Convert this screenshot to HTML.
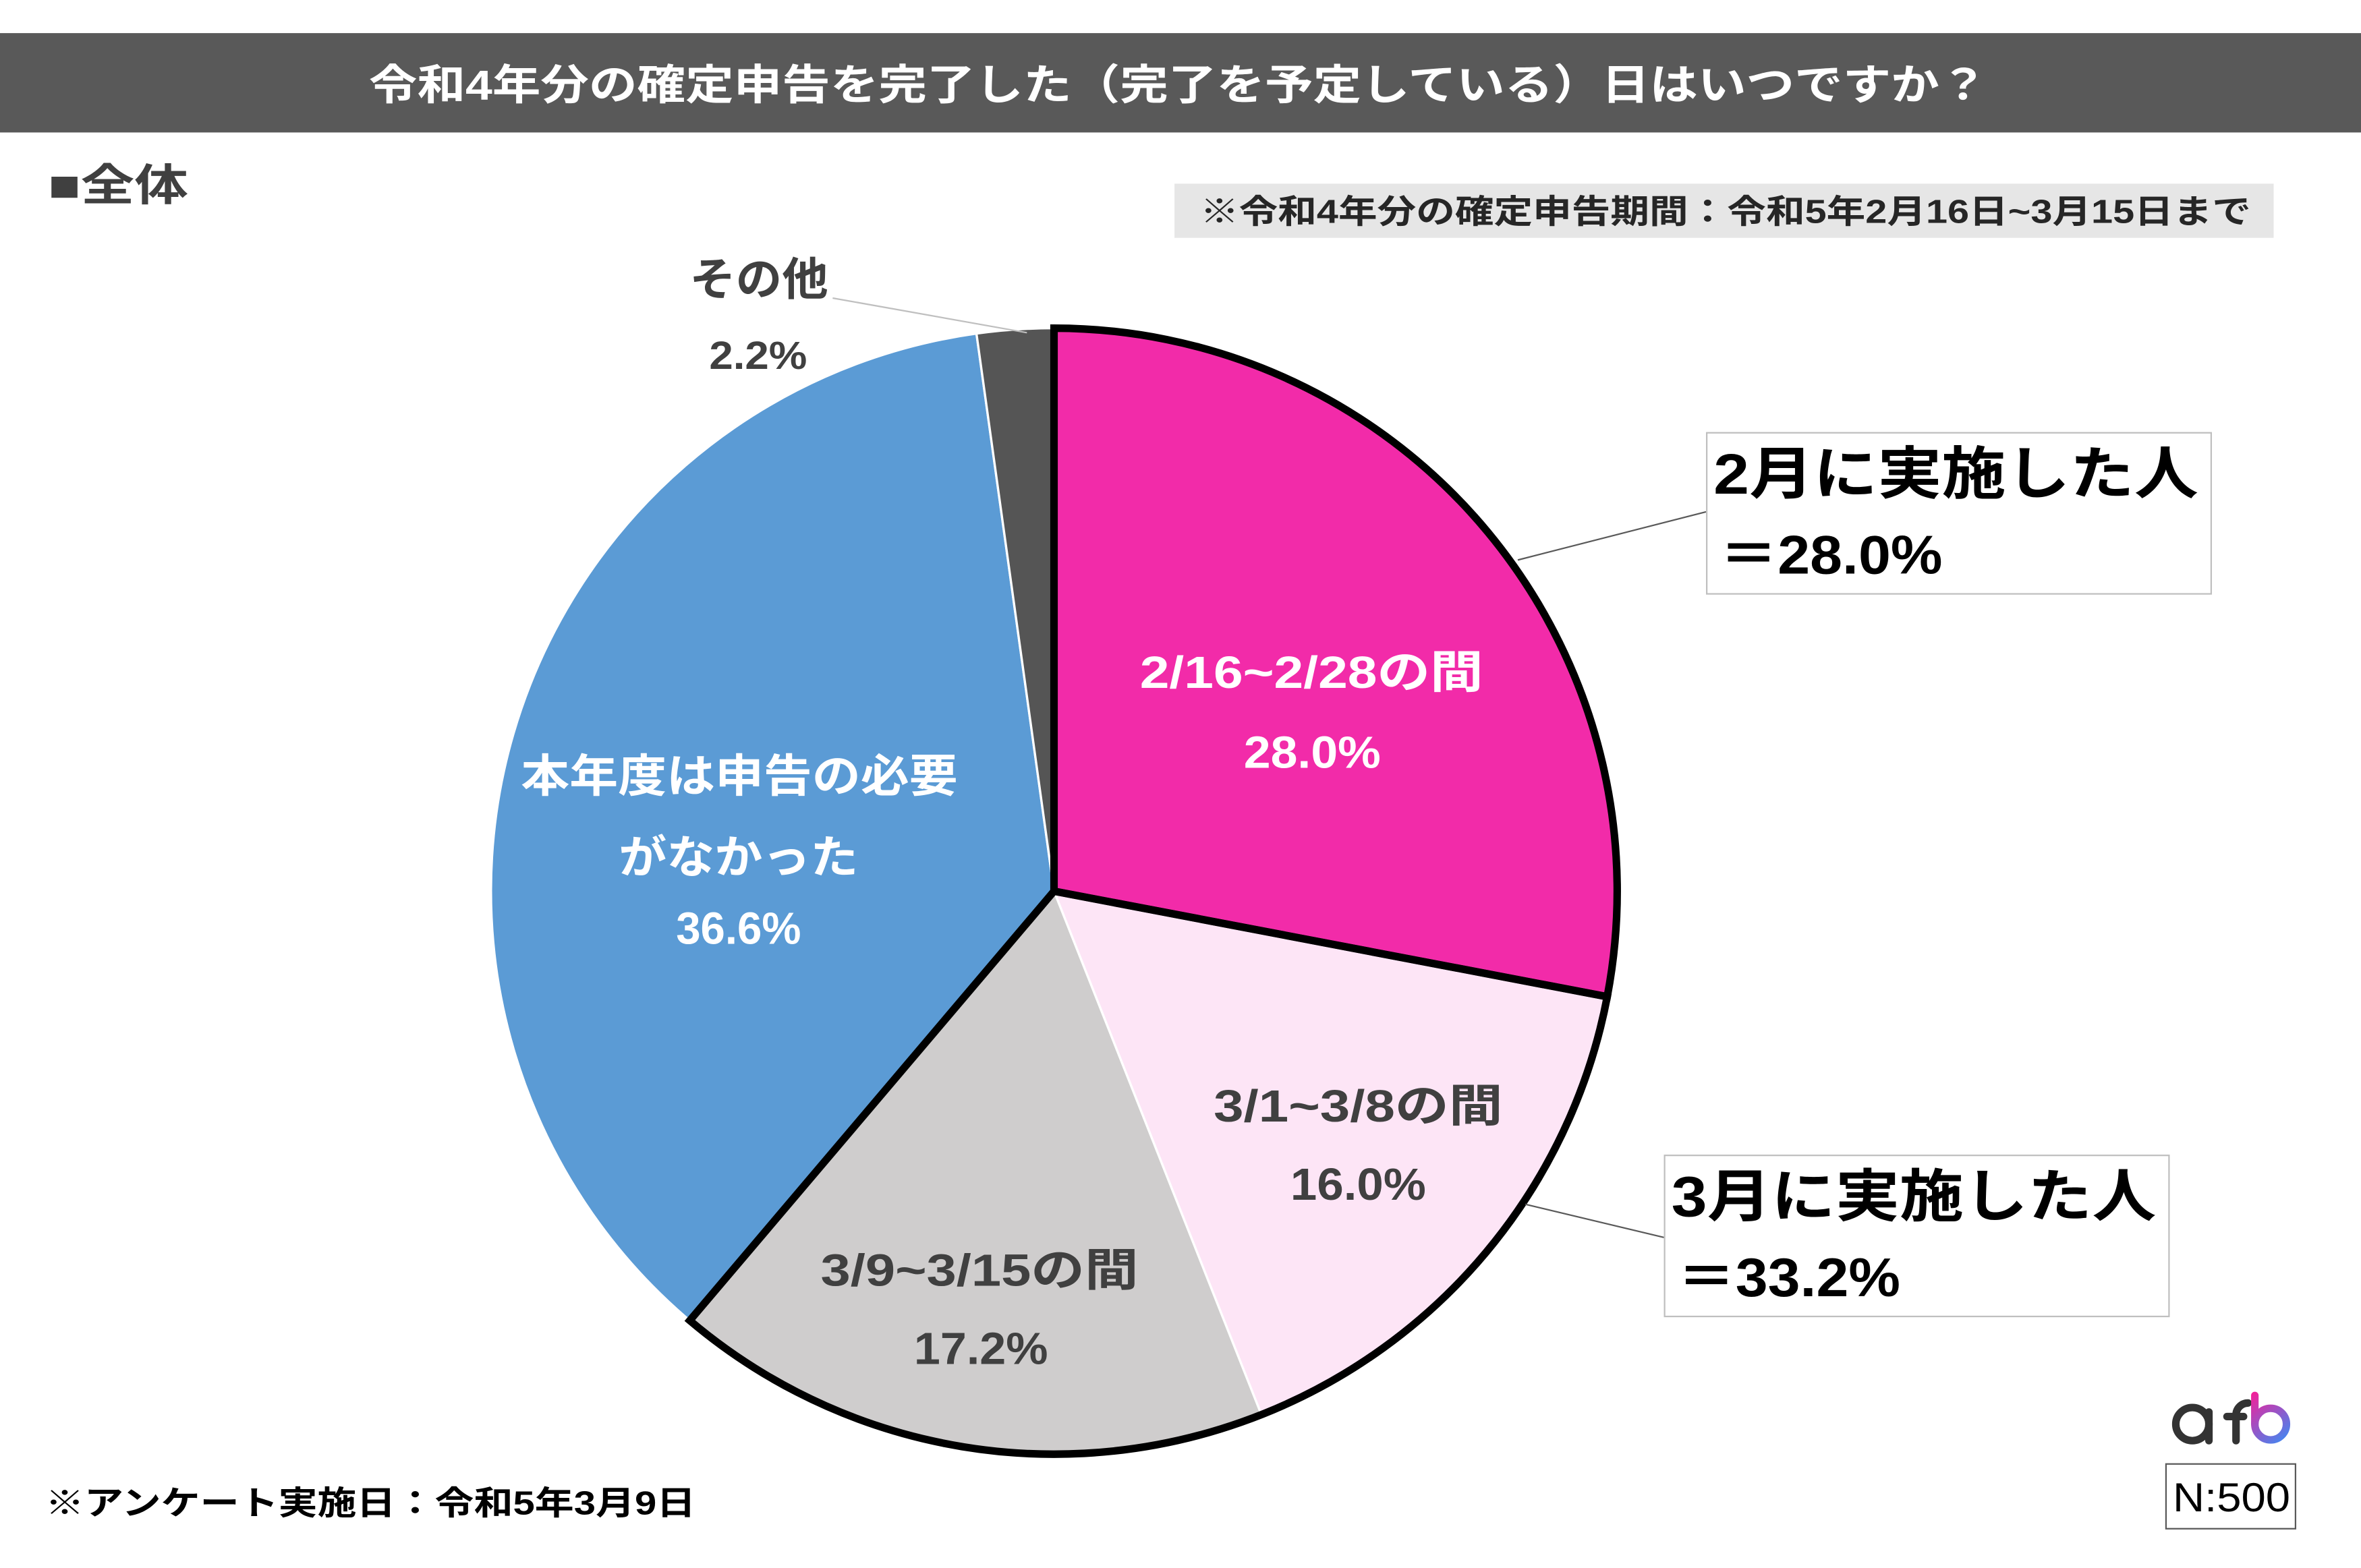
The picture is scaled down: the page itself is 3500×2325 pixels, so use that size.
<!DOCTYPE html>
<html><head><meta charset="utf-8"><style>
html,body{margin:0;padding:0;background:#fff}
svg{display:block}
text{font-family:"Liberation Sans","Noto Sans CJK JP",sans-serif;font-weight:bold}
</style></head><body>
<svg width="3500" height="2325" viewBox="0 0 1568 1041.6" xmlns="http://www.w3.org/2000/svg">
<defs><linearGradient id="g" gradientUnits="userSpaceOnUse" x1="1495" y1="927" x2="1520" y2="958"><stop offset="0" stop-color="#f0219a"/><stop offset="1" stop-color="#3a8cf5"/></linearGradient></defs>
<rect x="0" y="22" width="1568" height="66" fill="#595959"/>
<text x="245" y="66" font-size="28" fill="#fff" textLength="1075" lengthAdjust="spacingAndGlyphs">令和4年分の確定申告を完了した（完了を予定している）日はいつですか？</text>
<text x="32" y="133" font-size="29" fill="#404040" textLength="93" lengthAdjust="spacingAndGlyphs">■全体</text>
<rect x="780" y="122" width="730" height="36" fill="#e6e6e6"/>
<text x="797" y="148" font-size="22" fill="#262626" textLength="698" lengthAdjust="spacingAndGlyphs">※令和4年分の確定申告期間：令和5年2月16日~3月15日まで</text>
<g stroke="#fff" stroke-width="1.5">
<path d="M700,592 L700,218 A374,374 0 0 1 1067.4,662.1 Z" fill="#f22ba9"/>
<path d="M700,592 L1067.4,662.1 A374,374 0 0 1 837.7,939.7 Z" fill="#fde5f6"/>
<path d="M700,592 L837.7,939.7 A374,374 0 0 1 458.1,877.2 Z" fill="#cfcdcd"/>
<path d="M700,592 L458.1,877.2 A374,374 0 0 1 648.5,221.6 Z" fill="#5b9bd5"/>
<path d="M700,592 L648.5,221.6 A374,374 0 0 1 700,218 Z" fill="#555555"/>
</g>
<g fill="none" stroke="#000" stroke-width="5" stroke-linejoin="miter">
<path d="M700,592 L700,218 A374,374 0 0 1 1067.4,662.1 Z"/>
<path d="M700,592 L1067.4,662.1 A374,374 0 0 1 458.1,877.2 Z"/>
</g>
<g font-size="30">
<text x="757" y="457" fill="#fff" textLength="228" lengthAdjust="spacingAndGlyphs">2/16~2/28の間</text>
<text x="826" y="510" fill="#fff" textLength="91" lengthAdjust="spacingAndGlyphs">28.0%</text>
<text x="806" y="745" fill="#404040" textLength="192" lengthAdjust="spacingAndGlyphs">3/1~3/8の間</text>
<text x="857" y="797" fill="#404040" textLength="90" lengthAdjust="spacingAndGlyphs">16.0%</text>
<text x="545" y="854" fill="#404040" textLength="211" lengthAdjust="spacingAndGlyphs">3/9~3/15の間</text>
<text x="607" y="906" fill="#404040" textLength="89" lengthAdjust="spacingAndGlyphs">17.2%</text>
<text x="346" y="526" fill="#fff" textLength="290" lengthAdjust="spacingAndGlyphs">本年度は申告の必要</text>
<text x="411" y="580" fill="#fff" textLength="159" lengthAdjust="spacingAndGlyphs">がなかった</text>
<text x="449" y="627" fill="#fff" textLength="83" lengthAdjust="spacingAndGlyphs">36.6%</text>
<text x="458" y="196" fill="#404040" textLength="92" lengthAdjust="spacingAndGlyphs">その他</text>
<text x="471" y="245" fill="#404040" font-size="26" textLength="65" lengthAdjust="spacingAndGlyphs">2.2%</text>
</g>
<line x1="553" y1="198" x2="682" y2="221" stroke="#bfbfbf" stroke-width="1"/>
<line x1="1008" y1="372" x2="1133" y2="340" stroke="#595959" stroke-width="1"/>
<line x1="1013" y1="800" x2="1105" y2="822" stroke="#595959" stroke-width="1"/>
<rect x="1133.5" y="287.5" width="335" height="107" fill="#fff" stroke="#bfbfbf" stroke-width="1"/>
<text x="1138" y="328" font-size="38" fill="#000" textLength="322" lengthAdjust="spacingAndGlyphs">2月に実施した人</text>
<text x="1142" y="381" font-size="36" fill="#000" textLength="148" lengthAdjust="spacingAndGlyphs">＝28.0%</text>
<rect x="1105.5" y="767.5" width="335" height="107" fill="#fff" stroke="#bfbfbf" stroke-width="1"/>
<text x="1110" y="808" font-size="38" fill="#000" textLength="322" lengthAdjust="spacingAndGlyphs">3月に実施した人</text>
<text x="1114" y="861" font-size="36" fill="#000" textLength="148" lengthAdjust="spacingAndGlyphs">＝33.2%</text>
<text x="30" y="1006" font-size="22" fill="#000" textLength="432" lengthAdjust="spacingAndGlyphs">※アンケート実施日：令和5年3月9日</text>
<g stroke-linecap="round" fill="none" stroke-width="5">
<circle cx="1456" cy="946" r="11" stroke="#333"/>
<line x1="1467" y1="938" x2="1467" y2="957" stroke="#333"/>
<path d="M1485,957 L1485,940 A8,8 0 0 1 1493,932" stroke="#333"/>
<line x1="1479" y1="941" x2="1490" y2="941" stroke="#333"/>
<line x1="1497.5" y1="927" x2="1497.5" y2="946" stroke="url(#g)"/>
<circle cx="1508" cy="946" r="10.5" stroke="url(#g)"/>
</g>
<rect x="1438.5" y="972.5" width="86" height="43" fill="#fff" stroke="#595959" stroke-width="1"/>
<text x="1443" y="1004" font-size="27" fill="#000" textLength="78" lengthAdjust="spacingAndGlyphs" style="font-weight:normal">N:500</text>
</svg>
</body></html>
